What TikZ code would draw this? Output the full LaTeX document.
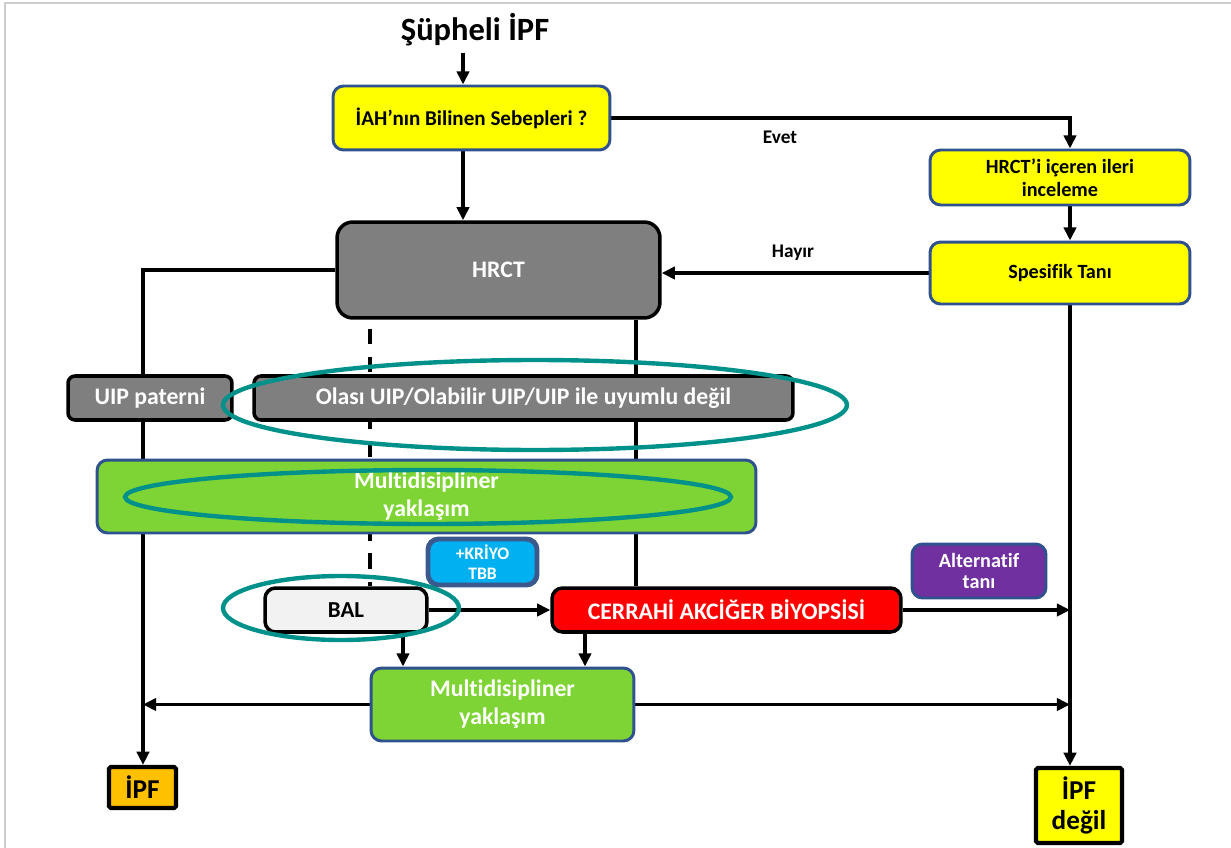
\documentclass[tikz,border=0pt]{standalone}
\usepackage{fontspec}
\setmainfont{Carlito}[Ligatures=NoCommon, Contextuals=NoAlternate]
\definecolor{boxblue}{RGB}{47,82,143}
\definecolor{boxyellow}{RGB}{255,255,0}
\definecolor{boxgray}{RGB}{127,127,127}
\definecolor{boxgreen}{RGB}{126,212,52}
\definecolor{boxcyan}{RGB}{0,176,240}
\definecolor{boxslate}{RGB}{59,89,140}
\definecolor{boxred}{RGB}{255,0,0}
\definecolor{boxpurple}{RGB}{112,48,160}
\definecolor{boxorange}{RGB}{255,192,0}
\definecolor{boxlight}{RGB}{242,242,242}
\definecolor{ringteal}{RGB}{0,146,138}
\definecolor{pageline}{RGB}{205,205,205}
\usetikzlibrary{arrows.meta,positioning,backgrounds}

\begin{document}
\begin{tikzpicture}[x=0.02cm, y=-0.02cm,
  box/.style={draw=boxblue, line width=1.7pt, rounded corners=6pt, align=center,
    inner sep=0pt, font=\bfseries},
  yellowbox/.style={box, fill=boxyellow, font=\fontsize{11.5}{13.2}\selectfont\bfseries},
  graybox/.style={box, draw=black, line width=2pt, fill=boxgray, text=white,
    font=\fontsize{13.5}{16}\selectfont\bfseries},
  greenbox/.style={box, fill=boxgreen, text=white, font=\fontsize{13.5}{16}\selectfont\bfseries},
  endbox/.style={box, draw=black, line width=2.4pt, rounded corners=1pt,
    font=\fontsize{15.5}{17}\selectfont\bfseries},
  conn/.style={line width=2.1pt},
  arr/.style={conn, -{Triangle[length=7.5pt,width=7pt]}},
  ring/.style={draw=ringteal, line width=2.5pt},
  lbl/.style={font=\fontsize{11}{13}\selectfont\bfseries}]

\useasboundingbox (0,0) rectangle (1231,848);

% Page frame
\draw[pageline, line width=0.8pt] (5,848) -- (5,3) -- (1231,3);

% Top
\node[font=\fontsize{18.5}{22}\selectfont\bfseries] (title) at (475,30) {Şüpheli İPF};
\node[yellowbox, font=\fontsize{12}{14}\selectfont\bfseries, minimum width=5.54cm,
  minimum height=1.28cm] (iah) at (471.5,118) {İAH’nın Bilinen Sebepleri ?};
\node[graybox, rounded corners=9pt, minimum width=6.46cm, minimum height=1.92cm]
  (hrct) at (498.5,270) {HRCT};

% Right column
\node[yellowbox, minimum width=5.2cm, minimum height=1.1cm] (inceleme) at (1060,177.5)
  {HRCT’i içeren ileri\\inceleme};
\node[yellowbox, minimum width=5.2cm, minimum height=1.24cm] (spesifik) at (1060,273)
  {Spesifik Tanı};
\node[lbl] (evet) at (780,137) {Evet};
\node[lbl] (hayir) at (793,253) {Hayır};

% Patterns
\node[graybox, rounded corners=4pt, minimum width=3.28cm, minimum height=0.88cm]
  (uip) at (150,398) {UIP paterni};
\node[graybox, rounded corners=4pt, minimum width=10.78cm, minimum height=0.88cm]
  (olasi) at (523.5,398) {Olası UIP/Olabilir UIP/UIP ile uyumlu değil};
\node[greenbox, minimum width=13.18cm, minimum height=1.46cm] (mdt1) at (426.5,496.5)
  {Mult\kern0pt idisipliner\\yaklaşım};

% Biopsy
\node[box, draw=boxslate, line width=2.8pt, fill=boxcyan, text=white,
  font=\fontsize{10}{11.3}\selectfont\bfseries, minimum width=2.18cm, minimum height=0.92cm]
  (kriyo) at (482.5,562) {+KRİYO\\TBB};
\node[box, draw=black, line width=2pt, fill=boxlight, font=\fontsize{13}{15}\selectfont\bfseries,
  minimum width=3.24cm, minimum height=0.88cm] (bal) at (346,610) {BAL};
\node[graybox, fill=boxred, minimum width=6.98cm, minimum height=0.88cm]
  (cerrahi) at (726.5,610) {CERRAHİ AKCİĞER BİYOPSİSİ};
\node[box, fill=boxpurple, text=white, font=\fontsize{11.5}{12.3}\selectfont\bfseries,
  minimum width=2.68cm, minimum height=1.08cm] (alternatif) at (979,571)
  {Alternat\kern0pt if\\tanı};
\node[greenbox, minimum width=5.26cm, minimum height=1.46cm] (mdt2) at (502.5,704.5)
  {Mult\kern0pt idisipliner\\yaklaşım};

% Outcomes
\node[endbox, fill=boxorange, minimum width=1.34cm, minimum height=0.82cm]
  (ipf) at (142.5,787.5) {İPF};
\node[endbox, fill=boxyellow, minimum width=1.72cm, minimum height=1.5cm]
  (notipf) at (1079,805.5) {İPF\\değil};

% Connector columns
\coordinate (midx) at (463,0);
\coordinate (leftx) at (143,0);
\coordinate (rightx) at (1070,0);
\coordinate (dashx) at (370,0);
\coordinate (solidx) at (636,0);
\coordinate (balx) at (403,0);
\coordinate (cerx) at (585,0);

\begin{scope}[on background layer]
\draw[arr] (title.south -| midx) -- (iah.north -| midx);
\draw[arr] (iah.south -| midx) -- (hrct.north -| midx);
\draw[arr] (iah.east) -| (inceleme.north -| rightx);
\draw[arr] (inceleme.south -| rightx) -- (spesifik.north -| rightx);
\draw[arr] (spesifik.west) -- (spesifik.west -| hrct.east);
\draw[arr] (spesifik.south -| rightx) -- (notipf.north -| rightx);
\draw[conn] (hrct.west) -| (uip.north -| leftx);
\draw[arr] (uip.south -| leftx) -- (ipf.north -| leftx);
\draw[conn, dash pattern=on 9pt off 7pt, shorten <=5pt] (hrct.south -| dashx) -- (bal.north -| dashx);
\draw[conn] (hrct.south -| solidx) -- (cerrahi.north -| solidx);
\draw[arr] (bal.east) -- (cerrahi.west);
\draw[arr] (cerrahi.east) -- (cerrahi.east -| rightx);
\draw[arr] (bal.south -| balx) -- (mdt2.north -| balx);
\draw[arr] (cerrahi.south -| cerx) -- (mdt2.north -| cerx);
\draw[arr] (mdt2.west) -- (mdt2.west -| leftx);
\draw[arr] (mdt2.east) -- (mdt2.east -| rightx);
\end{scope}

% Highlights
\draw[ring] (535,405) ellipse [x radius=6.24cm, y radius=0.9cm];
\draw[ring] (428,497) ellipse [x radius=6.06cm, y radius=0.54cm];
\draw[ring] (341,608) ellipse [x radius=2.36cm, y radius=0.64cm];

\end{tikzpicture}
\end{document}
